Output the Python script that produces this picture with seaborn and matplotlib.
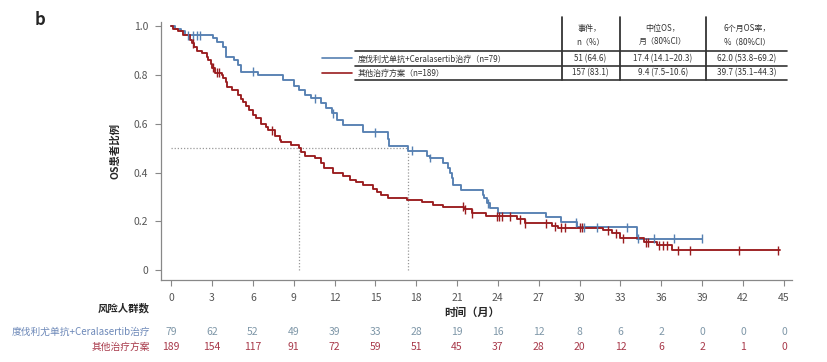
import numpy as np
import pandas as pd
import seaborn as sns
import matplotlib.pyplot as plt
from matplotlib.lines import Line2D

# step points (month, survival after the step)
blue_t = [0, 0.3, 0.7, 1.0, 3.1, 3.4, 3.8, 4.0, 4.6, 4.9, 5.1, 6.4, 8.2, 9.0, 9.4, 9.8,
          10.3, 11.0, 11.4, 11.8, 12.2, 12.6, 14.1, 15.9, 16.0, 17.4, 18.8, 19.0, 20.0,
          20.3, 20.5, 20.6, 20.7, 21.3, 22.9, 23.0, 23.2, 23.4, 24.0, 27.5, 28.6, 29.8,
          34.2, 39.0]
blue_s = [1.0, 0.99, 0.98, 0.963, 0.95, 0.936, 0.915, 0.874, 0.86, 0.84, 0.813, 0.80,
          0.78, 0.757, 0.74, 0.717, 0.705, 0.685, 0.664, 0.643, 0.615, 0.594, 0.566,
          0.537, 0.508, 0.49, 0.47, 0.46, 0.44, 0.42, 0.40, 0.38, 0.35, 0.328, 0.31,
          0.295, 0.275, 0.254, 0.234, 0.217, 0.197, 0.176, 0.13, 0.13]
blue_cens = [1.2, 1.6, 1.9, 2.1, 6.0, 10.6, 11.9, 15.0, 17.7, 19.0, 23.3, 29.7, 30.3,
             31.3, 33.5, 34.3, 35.5, 36.9, 39.0]

red_t = [0, 0.15, 0.5, 0.9, 1.4, 1.5, 1.7, 1.9, 2.3, 2.6, 2.7, 2.9, 3.0, 3.2, 3.7, 3.8,
         4.0, 4.1, 4.5, 4.9, 5.1, 5.3, 5.5, 5.7, 6.0, 6.2, 6.6, 7.0, 7.1, 7.6, 8.0, 8.1,
         8.8, 9.4, 9.5, 9.8, 10.6, 11.0, 11.2, 11.9, 12.6, 13.1, 13.6, 14.1, 14.8, 15.1,
         15.4, 15.9, 17.3, 18.4, 19.2, 20.0, 21.5, 22.1, 23.1, 25.4, 26.0, 28.0, 28.4,
         31.7, 32.4, 33.0, 34.7, 35.7, 36.8, 44.7]
red_s = [1.0, 0.99, 0.98, 0.963, 0.945, 0.93, 0.914, 0.90, 0.89, 0.875, 0.86, 0.845,
         0.83, 0.81, 0.80, 0.787, 0.77, 0.75, 0.738, 0.717, 0.70, 0.69, 0.673, 0.656,
         0.635, 0.623, 0.60, 0.585, 0.574, 0.55, 0.535, 0.525, 0.515, 0.50, 0.485, 0.47,
         0.46, 0.44, 0.418, 0.40, 0.385, 0.37, 0.36, 0.35, 0.335, 0.32, 0.31, 0.295,
         0.287, 0.28, 0.266, 0.26, 0.25, 0.234, 0.221, 0.209, 0.193, 0.18, 0.174, 0.164,
         0.152, 0.131, 0.115, 0.102, 0.082, 0.082]
red_cens = [1.6, 3.1, 3.4, 3.5, 7.4, 21.4, 21.6, 22.1, 23.9, 24.1, 24.3, 24.9, 25.6,
            26.0, 27.5, 28.2, 28.6, 28.9, 30.0, 30.2, 32.1, 32.7, 33.2, 34.9, 35.0,
            35.8, 36.1, 36.4, 37.2, 38.1, 41.7, 44.6]

medians = [9.4, 17.4]

groups = ["度伐利尤单抗+Ceralasertib治疗", "其他治疗方案"]
legend_names = ["度伐利尤单抗+Ceralasertib治疗（n=79）", "其他治疗方案（n=189）"]
risk_times = list(range(0, 46, 3))
risk_blue = [79, 62, 52, 49, 39, 33, 28, 19, 16, 12, 8, 6, 2, 0, 0, 0]
risk_red = [189, 154, 117, 91, 72, 59, 51, 45, 37, 28, 20, 12, 6, 2, 1, 0]

tbl_head = ["事件，\nn（%）", "中位OS，\n月（80%CI）", "6个月OS率，\n%（80%CI）"]
tbl_blue = ["51 (64.6)", "17.4 (14.1–20.3)", "62.0 (53.8–69.2)"]
tbl_red = ["157 (83.1)", "9.4 (7.5–10.6)", "39.7 (35.1–44.3)"]

c_blue = "#5680b2"
c_red = "#9a1c1f"

sns.set_style("ticks")
plt.rcParams['font.family'] = ['Noto Sans CJK SC', 'DejaVu Sans']

km = pd.concat([
    pd.DataFrame({"t": blue_t, "s": blue_s, "g": groups[0]}),
    pd.DataFrame({"t": red_t, "s": red_s, "g": groups[1]}),
])


def at(times, surv, pts):
    idx = np.searchsorted(times, pts, side='right') - 1
    return np.array(surv)[idx]


cens = pd.concat([
    pd.DataFrame({"t": blue_cens, "s": at(blue_t, blue_s, blue_cens), "g": groups[0]}),
    pd.DataFrame({"t": red_cens, "s": at(red_t, red_s, red_cens), "g": groups[1]}),
])
pal = {groups[0]: c_blue, groups[1]: c_red}

fig = plt.figure(figsize=(8.28, 3.62), dpi=100)
ax = fig.add_axes([0.1944, 0.2265, 0.7621, 0.7125])

# median guide lines
ax.plot([0, medians[1]], [0.5, 0.5], ls=(0, (1, 1.5)), color="#999999", lw=0.9)
for m in medians:
    ax.plot([m, m], [0, 0.5], ls=(0, (1, 1.5)), color="#999999", lw=0.9)

sns.lineplot(data=km, x="t", y="s", hue="g", palette=pal, estimator=None, sort=False,
             drawstyle="steps-post", lw=1.35, legend=False, ax=ax)
sns.scatterplot(data=cens, x="t", y="s", hue="g", palette=pal, marker="|", s=40,
                linewidth=1.0, legend=False, ax=ax, zorder=3)

ax.set_xlim(-0.75, 45.6)
ax.set_ylim(-0.04, 1.017)
ax.set_xticks(risk_times)
ax.set_yticks([0, 0.2, 0.4, 0.6, 0.8, 1.0])
ax.set_yticklabels(["0", "0.2", "0.4", "0.6", "0.8", "1.0"])
ax.set_xlabel("")
ax.set_ylabel("OS患者比例", fontsize=7.5, fontweight="bold", labelpad=10)
ax.tick_params(length=4, width=0.8, color="#888888", labelsize=7.5, labelcolor="#555555",
               pad=5)
for sp in ["left", "bottom"]:
    ax.spines[sp].set_color("#888888")
    ax.spines[sp].set_linewidth(0.9)
sns.despine(ax=ax)

W, H = 828.0, 362.0


def fx(px):
    return px / W


def fy(py):
    return 1 - py / H


fig.text(fx(40), fy(20), "b", fontsize=12, fontweight="bold", va="center", ha="center")
fig.text(fx(472), fy(312), "时间（月）", fontsize=8, fontweight="bold", ha="center",
         va="center")
fig.text(fx(150), fy(308), "风险人群数", fontsize=7.5, fontweight="bold", ha="right",
         va="center")

# risk table
for i, t in enumerate(risk_times):
    fig.text(fx(171 + t * 13.62), fy(332), str(risk_blue[i]), color="#7f97a8",
             fontsize=7.5, ha="center", va="center")
    fig.text(fx(171 + t * 13.62), fy(347), str(risk_red[i]), color="#a8394a",
             fontsize=7.5, ha="center", va="center")
fig.text(fx(150), fy(332), groups[0], color="#6c88b8", fontsize=7, ha="right",
         va="center")
fig.text(fx(150), fy(347), groups[1], color="#a8394a", fontsize=7, ha="right",
         va="center")

# summary table with legend
col_x = [590, 663, 747]
for px in [562, 620, 706]:
    fig.add_artist(Line2D([fx(px), fx(px)], [fy(17), fy(80)], color="#222222", lw=1.2))
for py in [51, 66, 80]:
    fig.add_artist(Line2D([fx(355), fx(787)], [fy(py), fy(py)], color="#333333", lw=1.2))
for cx, h in zip(col_x, tbl_head):
    fig.text(fx(cx), fy(35), h, fontsize=5.8, ha="center", va="center", linespacing=1.5,
             color="#333333")
for cx, a, b in zip(col_x, tbl_blue, tbl_red):
    fig.text(fx(cx), fy(59), a, fontsize=5.8, ha="center", va="center", color="#333333")
    fig.text(fx(cx), fy(73), b, fontsize=5.8, ha="center", va="center", color="#333333")
fig.add_artist(Line2D([fx(322), fx(352)], [fy(58), fy(58)], color=c_blue, lw=1.2))
fig.add_artist(Line2D([fx(322), fx(352)], [fy(73), fy(73)], color=c_red, lw=1.2))
fig.text(fx(358), fy(59), legend_names[0], fontsize=5.8, ha="left", va="center",
         color="#333333")
fig.text(fx(358), fy(73), legend_names[1], fontsize=5.8, ha="left", va="center",
         color="#333333")

fig.savefig("out.png", dpi=100)
